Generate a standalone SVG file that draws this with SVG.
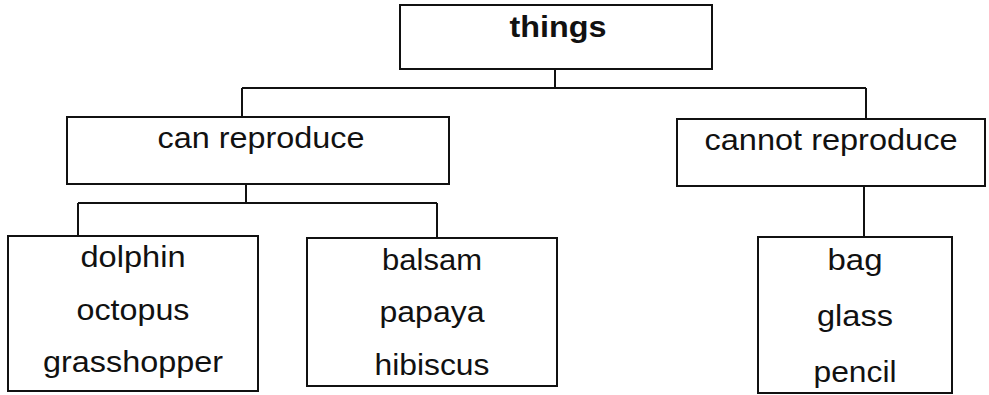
<svg xmlns="http://www.w3.org/2000/svg" width="989" height="395" viewBox="0 0 989 395">
<style>
.box{fill:#fff;stroke:#111;stroke-width:2}
.ln{stroke:#111;stroke-width:2;fill:none}
text{font-family:"Liberation Sans",Arial,sans-serif;font-size:29px;fill:#111;text-anchor:middle}
.b{font-weight:bold}
</style>
<rect width="989" height="395" fill="#fff"/>
<g id="connectors">
<path class="ln" d="M555,69V88M242,88H866M242,88V117M866,88V119"/>
<path class="ln" d="M246,184V203M78,203H437M78,203V236M437,203V238"/>
<path class="ln" d="M864,186V237"/>
</g>
<g id="things">
<rect class="box" x="400" y="5" width="312" height="64"/>
<text class="b" x="558" y="37" textLength="97" lengthAdjust="spacingAndGlyphs">things</text>
</g>
<g id="can-reproduce">
<rect class="box" x="67" y="117" width="382" height="67"/>
<text x="261" y="148" textLength="207" lengthAdjust="spacingAndGlyphs">can reproduce</text>
</g>
<g id="cannot-reproduce">
<rect class="box" x="677" y="119" width="308" height="67"/>
<text x="831" y="150" textLength="253" lengthAdjust="spacingAndGlyphs">cannot reproduce</text>
</g>
<g id="animals">
<rect class="box" x="8" y="236" width="250" height="155"/>
<text x="133" y="267" textLength="105" lengthAdjust="spacingAndGlyphs">dolphin</text>
<text x="133" y="320" textLength="113" lengthAdjust="spacingAndGlyphs">octopus</text>
<text x="133" y="372" textLength="180" lengthAdjust="spacingAndGlyphs">grasshopper</text>
</g>
<g id="plants">
<rect class="box" x="307" y="238" width="250" height="148"/>
<text x="432" y="270" textLength="100" lengthAdjust="spacingAndGlyphs">balsam</text>
<text x="432" y="322" textLength="105" lengthAdjust="spacingAndGlyphs">papaya</text>
<text x="432" y="375" textLength="115" lengthAdjust="spacingAndGlyphs">hibiscus</text>
</g>
<g id="non-living">
<rect class="box" x="758" y="237" width="194" height="156"/>
<text x="855" y="270" textLength="55" lengthAdjust="spacingAndGlyphs">bag</text>
<text x="855" y="326" textLength="76" lengthAdjust="spacingAndGlyphs">glass</text>
<text x="855" y="382" textLength="83" lengthAdjust="spacingAndGlyphs">pencil</text>
</g>
</svg>
